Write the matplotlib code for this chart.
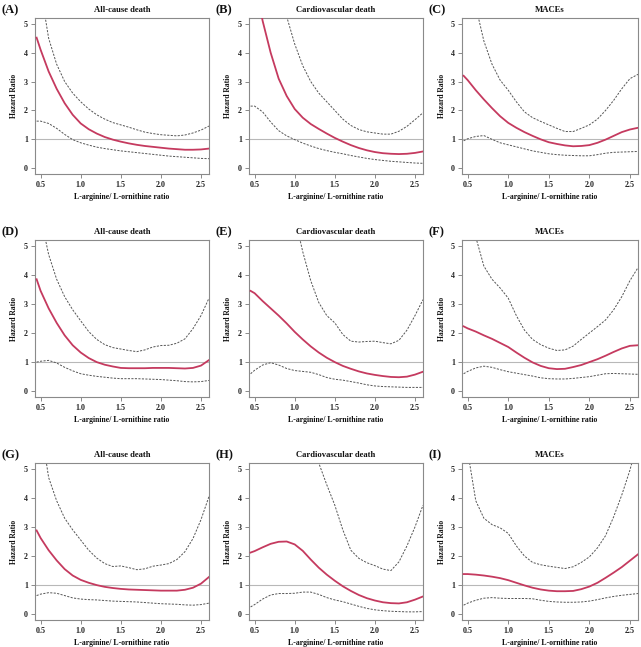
import matplotlib
matplotlib.use("Agg")
import matplotlib.pyplot as plt
import numpy as np

plt.rcParams['font.family'] = ['Liberation Serif', 'DejaVu Serif']

x = [0.45, 0.5, 0.6, 0.7, 0.8, 0.9, 1.0, 1.1, 1.2, 1.3, 1.4, 1.5,
     1.6, 1.7, 1.8, 1.9, 2.0, 2.1, 2.2, 2.3, 2.4, 2.5, 2.6]

panel_labels = ["(A)", "(B)", "(C)", "(D)", "(E)", "(F)", "(G)", "(H)", "(I)"]
titles = ["All-cause death", "Cardiovascular death", "MACEs"] * 3

hr_A = [4.52, 4.1, 3.35, 2.75, 2.25, 1.85, 1.55, 1.35, 1.2, 1.08, 0.99, 0.92, 0.86, 0.81, 0.77, 0.74, 0.71, 0.68, 0.66, 0.64, 0.64, 0.65, 0.68]
up_A = [9.0, 6.2, 4.5, 3.6, 3.0, 2.6, 2.3, 2.05, 1.85, 1.7, 1.58, 1.5, 1.42, 1.33, 1.25, 1.2, 1.16, 1.14, 1.12, 1.15, 1.22, 1.32, 1.46]
lo_A = [1.63, 1.63, 1.55, 1.38, 1.17, 0.99, 0.88, 0.8, 0.73, 0.68, 0.64, 0.6, 0.57, 0.54, 0.51, 0.48, 0.45, 0.42, 0.4, 0.38, 0.36, 0.34, 0.33]

hr_B = [7.5, 6.5, 5.1, 4.0, 3.1, 2.5, 2.05, 1.75, 1.53, 1.36, 1.2, 1.05, 0.92, 0.8, 0.7, 0.62, 0.56, 0.52, 0.5, 0.49, 0.5, 0.53, 0.58]
up_B = [14.0, 12.5, 10.0, 8.2, 6.6, 5.25, 4.3, 3.55, 3.0, 2.6, 2.3, 2.0, 1.7, 1.48, 1.34, 1.26, 1.22, 1.18, 1.18, 1.28, 1.45, 1.68, 1.92]
lo_B = [2.15, 2.15, 1.95, 1.6, 1.3, 1.12, 0.99, 0.87, 0.77, 0.68, 0.61, 0.55, 0.5, 0.44, 0.39, 0.34, 0.3, 0.27, 0.24, 0.22, 0.2, 0.18, 0.17]

hr_C = [3.2, 3.05, 2.7, 2.38, 2.08, 1.8, 1.57, 1.4, 1.25, 1.12, 1.0, 0.9, 0.84, 0.79, 0.76, 0.77, 0.8, 0.88, 0.99, 1.12, 1.25, 1.34, 1.4]
up_C = [9.0, 7.6, 5.6, 4.4, 3.6, 3.05, 2.7, 2.3, 1.95, 1.75, 1.62, 1.5, 1.38, 1.27, 1.27, 1.38, 1.5, 1.7, 2.0, 2.35, 2.75, 3.1, 3.25]
lo_C = [0.95, 1.02, 1.1, 1.13, 1.0, 0.88, 0.81, 0.74, 0.67, 0.6, 0.55, 0.5, 0.47, 0.45, 0.44, 0.43, 0.43, 0.47, 0.52, 0.55, 0.56, 0.57, 0.58]

hr_D = [3.85, 3.45, 2.85, 2.35, 1.92, 1.58, 1.33, 1.14, 1.0, 0.91, 0.85, 0.8, 0.79, 0.79, 0.79, 0.8, 0.8, 0.8, 0.79, 0.78, 0.8, 0.88, 1.07]
up_D = [8.0, 6.0, 4.7, 3.85, 3.25, 2.8, 2.42, 2.05, 1.78, 1.6, 1.5, 1.45, 1.4, 1.36, 1.42, 1.52, 1.57, 1.58, 1.65, 1.8, 2.15, 2.6, 3.2]
lo_D = [1.0, 1.03, 1.06, 0.97, 0.82, 0.7, 0.6, 0.55, 0.51, 0.48, 0.45, 0.43, 0.43, 0.43, 0.42, 0.41, 0.4, 0.38, 0.36, 0.33, 0.32, 0.33, 0.37]

hr_E = [3.45, 3.37, 3.1, 2.85, 2.6, 2.33, 2.04, 1.78, 1.54, 1.33, 1.15, 1.0, 0.87, 0.77, 0.68, 0.61, 0.56, 0.52, 0.49, 0.48, 0.5, 0.57, 0.67]
up_E = [20.0, 18.0, 14.5, 11.5, 9.2, 7.4, 6.0, 4.8, 3.8, 3.05, 2.6, 2.35, 1.95, 1.72, 1.69, 1.71, 1.72, 1.67, 1.63, 1.75, 2.1, 2.6, 3.15]
lo_E = [0.6, 0.72, 0.9, 0.98, 0.9, 0.78, 0.71, 0.68, 0.65, 0.57, 0.47, 0.41, 0.38, 0.33, 0.28, 0.22, 0.18, 0.16, 0.15, 0.14, 0.13, 0.13, 0.13]

hr_F = [2.23, 2.16, 2.05, 1.92, 1.8, 1.66, 1.52, 1.33, 1.15, 0.99, 0.87, 0.79, 0.76, 0.77, 0.83, 0.9, 1.0, 1.1, 1.22, 1.35, 1.47, 1.56, 1.58]
up_F = [9.0, 7.5, 5.3, 4.3, 3.85, 3.55, 3.2, 2.6, 2.1, 1.78, 1.6, 1.48, 1.4, 1.42, 1.55, 1.78, 2.0, 2.22, 2.45, 2.8, 3.25, 3.8, 4.25]
lo_F = [0.6, 0.68, 0.8, 0.86, 0.82, 0.74, 0.67, 0.62, 0.57, 0.52, 0.46, 0.43, 0.42, 0.42, 0.44, 0.47, 0.5, 0.55, 0.6, 0.61, 0.6, 0.59, 0.58]

hr_G = [2.88, 2.62, 2.2, 1.85, 1.55, 1.33, 1.18, 1.08, 1.0, 0.94, 0.9, 0.87, 0.85, 0.84, 0.83, 0.82, 0.81, 0.81, 0.81, 0.84, 0.91, 1.05, 1.28]
up_G = [9.0, 6.5, 4.7, 3.9, 3.3, 2.9, 2.55, 2.2, 1.93, 1.74, 1.64, 1.66, 1.6, 1.53, 1.56, 1.65, 1.69, 1.74, 1.88, 2.15, 2.6, 3.25, 4.05]
lo_G = [0.64, 0.69, 0.74, 0.72, 0.64, 0.56, 0.52, 0.5, 0.49, 0.47, 0.45, 0.44, 0.43, 0.42, 0.4, 0.38, 0.36, 0.35, 0.34, 0.32, 0.31, 0.33, 0.38]

hr_H = [2.12, 2.17, 2.3, 2.42, 2.49, 2.5, 2.4, 2.18, 1.88, 1.6, 1.36, 1.15, 0.96, 0.8, 0.66, 0.55, 0.47, 0.41, 0.38, 0.37, 0.41, 0.5, 0.61]
up_H = [30.0, 28.0, 24.0, 20.0, 16.0, 13.0, 10.5, 8.3, 6.5, 5.2, 4.45, 3.75, 2.9, 2.2, 1.92, 1.77, 1.67, 1.55, 1.5, 1.8, 2.35, 3.0, 3.75]
lo_H = [0.25, 0.33, 0.52, 0.66, 0.71, 0.71, 0.72, 0.76, 0.76, 0.68, 0.57, 0.49, 0.43, 0.35, 0.27, 0.2, 0.15, 0.12, 0.1, 0.09, 0.08, 0.08, 0.09]

hr_I = [1.38, 1.38, 1.36, 1.33, 1.29, 1.24, 1.17, 1.08, 0.99, 0.91, 0.85, 0.81, 0.79, 0.79, 0.8, 0.86, 0.95, 1.08, 1.25, 1.43, 1.62, 1.84, 2.06]
up_I = [7.0, 5.6, 3.9, 3.3, 3.08, 2.97, 2.78, 2.35, 2.0, 1.78, 1.7, 1.65, 1.61, 1.57, 1.63, 1.78, 1.97, 2.28, 2.7, 3.35, 4.1, 4.95, 6.0]
lo_I = [0.31, 0.38, 0.48, 0.55, 0.57, 0.55, 0.54, 0.54, 0.54, 0.53, 0.48, 0.44, 0.42, 0.41, 0.41, 0.42, 0.45, 0.5, 0.56, 0.61, 0.65, 0.68, 0.71]

hrs = [hr_A, hr_B, hr_C, hr_D, hr_E, hr_F, hr_G, hr_H, hr_I]
ups = [up_A, up_B, up_C, up_D, up_E, up_F, up_G, up_H, up_I]
los = [lo_A, lo_B, lo_C, lo_D, lo_E, lo_F, lo_G, lo_H, lo_I]

xticks = [0.5, 1.0, 1.5, 2.0, 2.5]
xticklabels = ["0.5", "1.0", "1.5", "2.0", "2.5"]
yticks = [0, 1, 2, 3, 4, 5]

W, H = 641, 647
fig = plt.figure(figsize=(W / 100, H / 100), dpi=100)

col_left = [35, 249, 462]
col_width = [174, 174, 176]
row_top = [18, 240, 463]
row_height = [156, 157, 157]

red = '#C53A5F'
grey_spine = '#8a8a8a'

for i in range(9):
    r, c = divmod(i, 3)
    left = col_left[c] / W
    bottom = 1 - (row_top[r] + row_height[r]) / H
    ax = fig.add_axes([left, bottom, col_width[c] / W, row_height[r] / H])
    ax.axhline(1, color='#b8b8b8', lw=0.8, zorder=1)
    ax.plot(x, ups[i], color='#555555', lw=0.7, ls=(0, (2.2, 1.4)), zorder=2)
    ax.plot(x, los[i], color='#555555', lw=0.7, ls=(0, (2.2, 1.4)), zorder=2)
    ax.plot(x, hrs[i], color=red, lw=1.3, zorder=3)
    ax.set_xlim(0.43, 2.6)
    ax.set_ylim(-0.2, 5.2)
    ax.set_xticks(xticks)
    ax.set_xticklabels(xticklabels)
    ax.set_yticks(yticks)
    for s in ax.spines.values():
        s.set_color(grey_spine)
        s.set_linewidth(0.8)
    ax.tick_params(axis='both', colors=grey_spine, labelcolor='#222222',
                   length=3, width=0.7, labelsize=5.8, pad=2)
    for lab in ax.get_xticklabels() + ax.get_yticklabels():
        lab.set_fontweight('bold')
    ax.set_title(titles[i], fontsize=6.2, fontweight='bold', pad=4, color='#111111')
    ax.set_ylabel("Hazard Ratio", fontsize=5.5, fontweight='bold', labelpad=4, color='#111111')
    ax.set_xlabel("L-arginine/ L-ornithine ratio", fontsize=5.6, fontweight='bold', labelpad=3, color='#111111')
    ax.text(-0.19, 1.05, panel_labels[i], transform=ax.transAxes, fontsize=9,
            fontweight='bold', ha='left', va='center', color='#111111')

fig.savefig("out.png", dpi=100)
